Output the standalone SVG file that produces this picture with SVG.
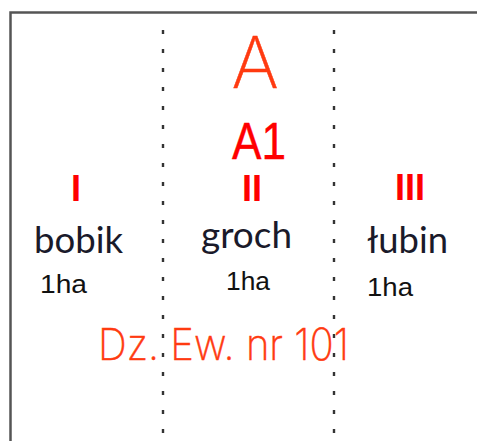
<svg xmlns="http://www.w3.org/2000/svg" width="477" height="441" viewBox="0 0 477 441">
<style>
.div{stroke:#333;stroke-width:2.4;stroke-dasharray:4 15;fill:none}
.roman{font-family:"Liberation Sans",Arial,sans-serif;font-weight:bold;fill:#f00;font-size:36px;text-anchor:middle}
.crop{font-family:Lato,"Open Sans",sans-serif;fill:#1a1a2a;font-size:36px}
.ha{font-family:"Liberation Sans",Arial,sans-serif;fill:#111;font-size:26px}
.thin{font-family:Inter,"Liberation Sans",sans-serif;font-weight:200;fill:#ff3a10;stroke:#ff3a10;stroke-width:0.5}
</style>
<rect x="0" y="0" width="477" height="441" fill="#fff"/>
<path d="M10.5 460 V12.5 H500" fill="none" stroke="#555" stroke-width="2.5"/>
<g id="connectors">
<line class="div" x1="163" y1="30" x2="163" y2="441"/>
<line class="div" x1="334" y1="30" x2="334" y2="441"/>
</g>
<g id="title-A"><text class="thin" x="255" y="88" font-size="72" text-anchor="middle">A</text></g>
<g id="title-A1"><text x="232" y="159" font-family="Liberation Sans,Arial,sans-serif" font-size="52" fill="#f00" stroke="#f00" stroke-width="0.4" textLength="54" lengthAdjust="spacingAndGlyphs">A1</text></g>
<g id="col-I">
<text class="roman" x="76" y="201">I</text>
<text class="crop" x="34" y="253" textLength="89" lengthAdjust="spacingAndGlyphs">bobik</text>
<text class="ha" x="40" y="293" textLength="47" lengthAdjust="spacingAndGlyphs">1ha</text>
</g>
<g id="col-II">
<text class="roman" x="252" y="201">II</text>
<text class="crop" x="201" y="248" textLength="91" lengthAdjust="spacingAndGlyphs">groch</text>
<text class="ha" x="226" y="290" textLength="44" lengthAdjust="spacingAndGlyphs">1ha</text>
</g>
<g id="col-III">
<text class="roman" x="410" y="200">III</text>
<text class="crop" x="367" y="253" textLength="81" lengthAdjust="spacingAndGlyphs">łubin</text>
<text class="ha" x="367" y="296" textLength="46" lengthAdjust="spacingAndGlyphs">1ha</text>
</g>
<g id="label-dz"><text class="thin" x="98" y="360" font-size="44" textLength="251" lengthAdjust="spacingAndGlyphs">Dz. Ew. nr 101</text></g>
</svg>
